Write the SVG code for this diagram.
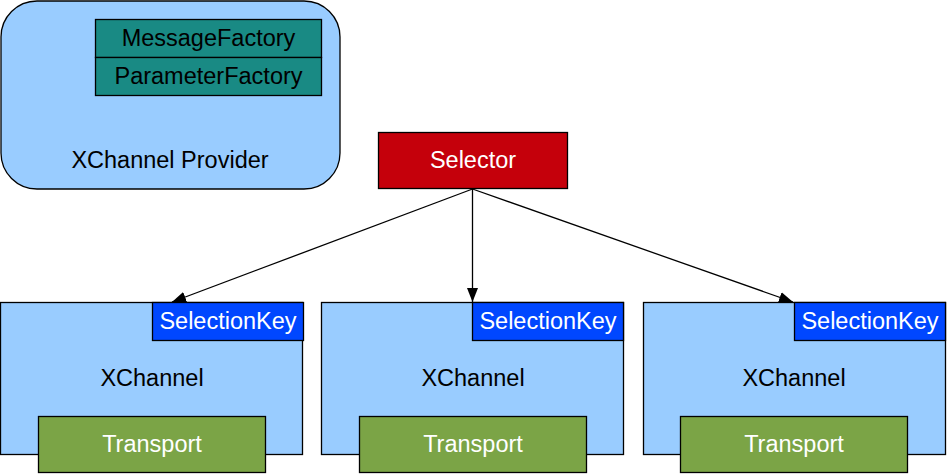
<svg xmlns="http://www.w3.org/2000/svg" width="947" height="474" viewBox="0 0 947 474">
<defs>
<marker id="ah" markerWidth="16" markerHeight="12" refX="14" refY="5.5" orient="auto" markerUnits="userSpaceOnUse">
<path d="M0,0 L14,5.5 L0,11 z" fill="#000"/>
</marker>
<style>
.t{font-family:"Liberation Sans",Arial,sans-serif;font-size:23.5px;text-anchor:middle}
.w{fill:#fff}
.k{fill:#000}
.bx{stroke:#000;stroke-width:1.3}
.lb{fill:#99CCFF}
.key{fill:#0047FF}
.tr{fill:#7BA446}
.ln{stroke:#000;stroke-width:1.3;fill:none}
</style>
</defs>
<rect width="947" height="474" fill="#fff"/>
<g id="provider">
<rect class="bx lb" x="1" y="1" width="339" height="188" rx="36" ry="36"/>
<rect class="bx" fill="#198A84" x="95.5" y="19.5" width="226" height="38"/>
<text class="t k" x="208.5" y="46">MessageFactory</text>
<rect class="bx" fill="#198A84" x="95.5" y="57.5" width="226" height="38"/>
<text class="t k" x="208.5" y="84">ParameterFactory</text>
<text class="t k" x="170" y="168">XChannel Provider</text>
</g>
<g id="selector">
<rect class="bx" fill="#C5000B" x="378.5" y="132.5" width="189" height="56"/>
<text class="t w" x="473" y="168">Selector</text>
</g>
<g id="channel1">
<rect class="bx lb" x="0.5" y="302.5" width="302" height="152"/>
<rect class="bx key" x="152.5" y="302.5" width="151" height="38"/>
<text class="t w" x="228" y="329">SelectionKey</text>
<text class="t k" x="152" y="386">XChannel</text>
<rect class="bx tr" x="38.5" y="416.5" width="227" height="56"/>
<text class="t w" x="152" y="452">Transport</text>
</g>
<g id="channel2">
<rect class="bx lb" x="321.5" y="302.5" width="302" height="152"/>
<rect class="bx key" x="472.5" y="302.5" width="151" height="38"/>
<text class="t w" x="548" y="329">SelectionKey</text>
<text class="t k" x="473" y="386">XChannel</text>
<rect class="bx tr" x="359.5" y="416.5" width="227" height="56"/>
<text class="t w" x="473" y="452">Transport</text>
</g>
<g id="channel3">
<rect class="bx lb" x="643.5" y="302.5" width="302" height="152"/>
<rect class="bx key" x="794.5" y="302.5" width="151" height="38"/>
<text class="t w" x="870" y="329">SelectionKey</text>
<text class="t k" x="794" y="386">XChannel</text>
<rect class="bx tr" x="680.5" y="416.5" width="227" height="56"/>
<text class="t w" x="794" y="452">Transport</text>
</g>
<g id="connectors">
<line class="ln" x1="472.5" y1="189" x2="172" y2="302" marker-end="url(#ah)"/>
<line class="ln" x1="472.5" y1="189" x2="472.5" y2="302" marker-end="url(#ah)"/>
<line class="ln" x1="472.5" y1="189" x2="793" y2="302" marker-end="url(#ah)"/>
</g>
</svg>
